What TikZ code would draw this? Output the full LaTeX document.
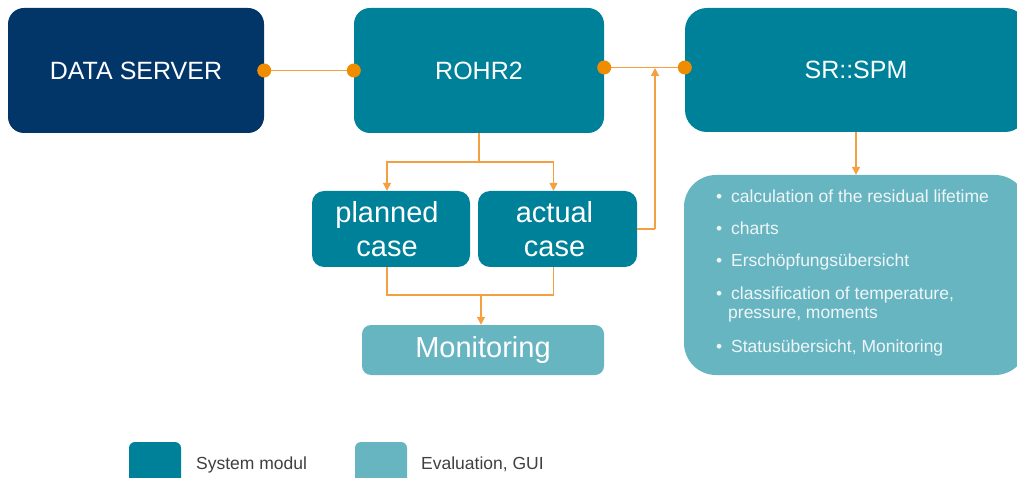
\documentclass[tikz,border=0pt]{standalone}
\usepackage{fontspec}
\setmainfont{Liberation Sans}
\usetikzlibrary{arrows.meta}
\definecolor{cnavy}{HTML}{023668}
\definecolor{cteal}{HTML}{00819A}
\definecolor{clight}{HTML}{68B5C2}
\definecolor{corg}{HTML}{F08C00}
\definecolor{corgl}{HTML}{F4A040}
\definecolor{cbul}{HTML}{EEF6F8}
\definecolor{clegtxt}{HTML}{404040}
\begin{document}
\begin{tikzpicture}[x=1pt,y=-1pt,
  box/.style={rectangle, rounded corners=#1, inner sep=0pt, text=white, align=center},
  bigfont/.style={font=\fontsize{25}{30}\selectfont},
  casefont/.style={font=\fontsize{29}{34}\selectfont},
  bullfont/.style={font=\fontsize{17.5}{20}\selectfont, text=cbul, inner sep=0pt},
  legfont/.style={font=\fontsize{17.5}{20}\selectfont, text=clegtxt, inner sep=0pt},
  conn/.style={draw=corgl, line width=1.3pt},
  arr/.style={conn, -{Triangle[width=8pt,length=8pt]}, shorten >=0pt},
  dot/.style={fill=corg}
]
\clip (0,0) rectangle (1017,478);
\fill[white] (0,0) rectangle (1017,478);

% main boxes
\node[box=16pt, fill=cnavy, minimum width=256pt, minimum height=125pt, bigfont] (ds) at (136,70.5) {DATA SERVER};
\node[box=16pt, fill=cteal, minimum width=250pt, minimum height=125pt, bigfont] (rohr) at (479,70.5) {ROHR2};
\node[box=22pt, fill=cteal, minimum width=342pt, minimum height=124pt, bigfont] (spm) at (856,70) {SR::SPM};

\node[box=12pt, fill=cteal, minimum width=158pt, minimum height=76pt, casefont] (planned) at (391,229) {planned\hspace*{8pt}\\case\hspace*{8pt}};
\node[box=12pt, fill=cteal, minimum width=159pt, minimum height=76pt, casefont] (actual) at (557.5,229) {actual\hspace*{6pt}\\case\hspace*{6pt}};
\node[box=9pt, fill=clight, minimum width=242pt, minimum height=50pt, casefont] (mon) at (483,350) {Monitoring};

\node[box=32pt, fill=clight, minimum width=343pt, minimum height=200pt] (eval) at (855.5,275) {};

% bullet texts
\node[bullfont, anchor=base west] (b1) at (716,203) {\makebox[15pt][l]{•}calculation of the residual lifetime};
\node[bullfont, anchor=base west] (b2) at (716,235) {\makebox[15pt][l]{•}charts};
\node[bullfont, anchor=base west] (b3) at (716,267) {\makebox[15pt][l]{•}Erschöpfungsübersicht};
\node[bullfont, anchor=base west] (b4) at (716,299) {\makebox[15pt][l]{•}classification of temperature,};
\node[bullfont, anchor=base west] (b4b) at (728,319) {pressure, moments};
\node[bullfont, anchor=base west] (b5) at (716,352) {\makebox[15pt][l]{•}Statusübersicht, Monitoring};

% connectors
\draw[conn] (ds.east) -- (rohr.west);
\coordinate (rj) at ([yshift=3pt]rohr.east);
\coordinate (sj) at (rj -| spm.west);
\draw[conn] (rj) -- (sj);
\fill[dot] (ds.east) circle[radius=7pt];
\fill[dot] (rohr.west) circle[radius=7pt];
\fill[dot] (rj) circle[radius=7pt];
\fill[dot] (sj) circle[radius=7pt];

\coordinate (split) at (479,162);
\draw[conn] (rohr.south) -- (split);
\draw[arr] (split) -| ([xshift=-4pt]planned.north);
\draw[arr] (split) -| ([xshift=-4pt]actual.north);

\coordinate (merge) at (481,295);
\draw[conn] ([xshift=-4pt]planned.south) |- (merge);
\draw[conn] ([xshift=-4pt]actual.south) |- (merge);
\draw[arr] (merge) -- (mon.north -| merge);

\coordinate (up) at (655,229);
\coordinate (upend) at (655,68);
\draw[conn] (actual.east) -- (up);
\draw[arr] (up) -- (upend);

\draw[arr] (spm.south) -- (spm.south |- eval.north);

% legend
\node[box=6pt, fill=cteal, minimum width=52pt, minimum height=60pt] (leg1) at (155,472) {};
\node[box=6pt, fill=clight, minimum width=52pt, minimum height=60pt] (leg2) at (381,472) {};
\node[legfont, anchor=base west] (leg1t) at (196,469) {System modul};
\node[legfont, anchor=base west] (leg2t) at (421,469) {Evaluation, GUI};
\end{tikzpicture}
\end{document}
